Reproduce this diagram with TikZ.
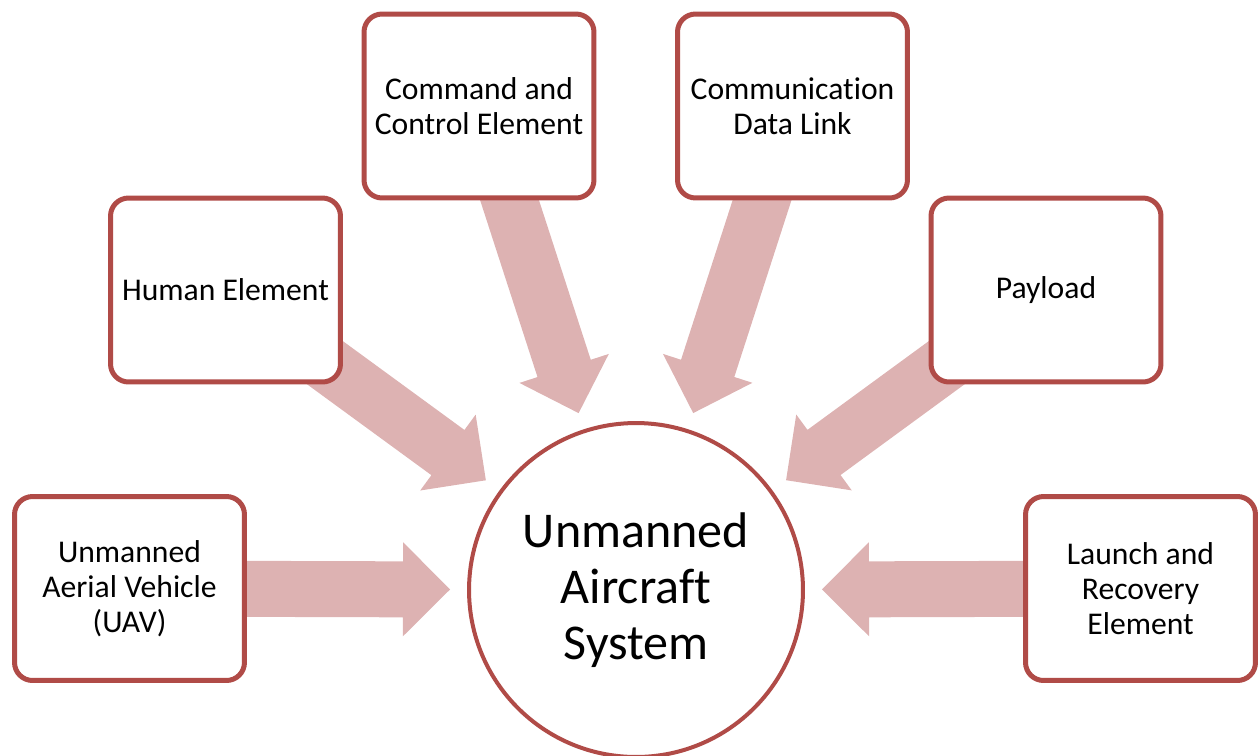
\documentclass[tikz,border=0pt]{standalone}
\usepackage{fontspec}
\setmainfont{Carlito}[Ligatures=NoCommon]
\usetikzlibrary{calc}
\definecolor{bordercol}{HTML}{B04B47}
\definecolor{arrowcol}{HTML}{DDB2B2}
\pgfdeclarelayer{back}
\pgfsetlayers{back,main}
\newcommand\blockarr[1]{%
  \coordinate (#1-hb) at ($(c.center)!4.66cm!(#1.center)$);
  \coordinate (#1-tp) at ($(c.center)!3.72cm!(#1.center)$);
  \fill[blockarrow] (#1-tp)
    -- ($(#1-hb)!0.94cm!90:(c.center)$)
    -- ($(#1-hb)!0.56cm!90:(c.center)$)
    -- ($(#1.center)!0.56cm!90:(c.center)$)
    -- ($(#1.center)!0.56cm!-90:(c.center)$)
    -- ($(#1-hb)!0.56cm!-90:(c.center)$)
    -- ($(#1-hb)!0.94cm!-90:(c.center)$)
    -- cycle;}
\begin{document}
\begin{tikzpicture}[x=0.02cm,y=-0.02cm,
  box/.style={draw=bordercol, line width=0.1cm, fill=white, rounded corners=0.36cm,
    minimum width=4.6cm, minimum height=3.68cm, align=center, inner sep=0pt,
    font=\fontsize{18}{19.9}\selectfont},
  hub/.style={circle, draw=bordercol, line width=0.08cm, fill=white, minimum size=6.68cm,
    align=center, inner sep=0pt, font=\fontsize{28.5}{31.9}\selectfont},
  blockarrow/.style={fill=arrowcol}]
\useasboundingbox (0,0) rectangle (1258,755);
\node[hub] (c) at (636,590) {Unmanned\\Aircraft\\System};
\node[box] (uav) at (129.5,588.5) {Unmanned\\Aerial Vehicle\\(UAV)};
\node[box] (human) at (225.5,290) {Human Element};
\node[box] (cmd) at (479,106) {Command and\\Control Element};
\node[box] (comm) at (792.5,106) {Communication\\Data Link};
\node[box] (pay) at (1046,290) {Payload};
\node[box] (launch) at (1140.5,588.5) {Launch and\\Recovery\\Element};
\begin{pgfonlayer}{back}
\blockarr{uav}
\blockarr{human}
\blockarr{cmd}
\blockarr{comm}
\blockarr{pay}
\blockarr{launch}
\end{pgfonlayer}
\end{tikzpicture}
\end{document}
